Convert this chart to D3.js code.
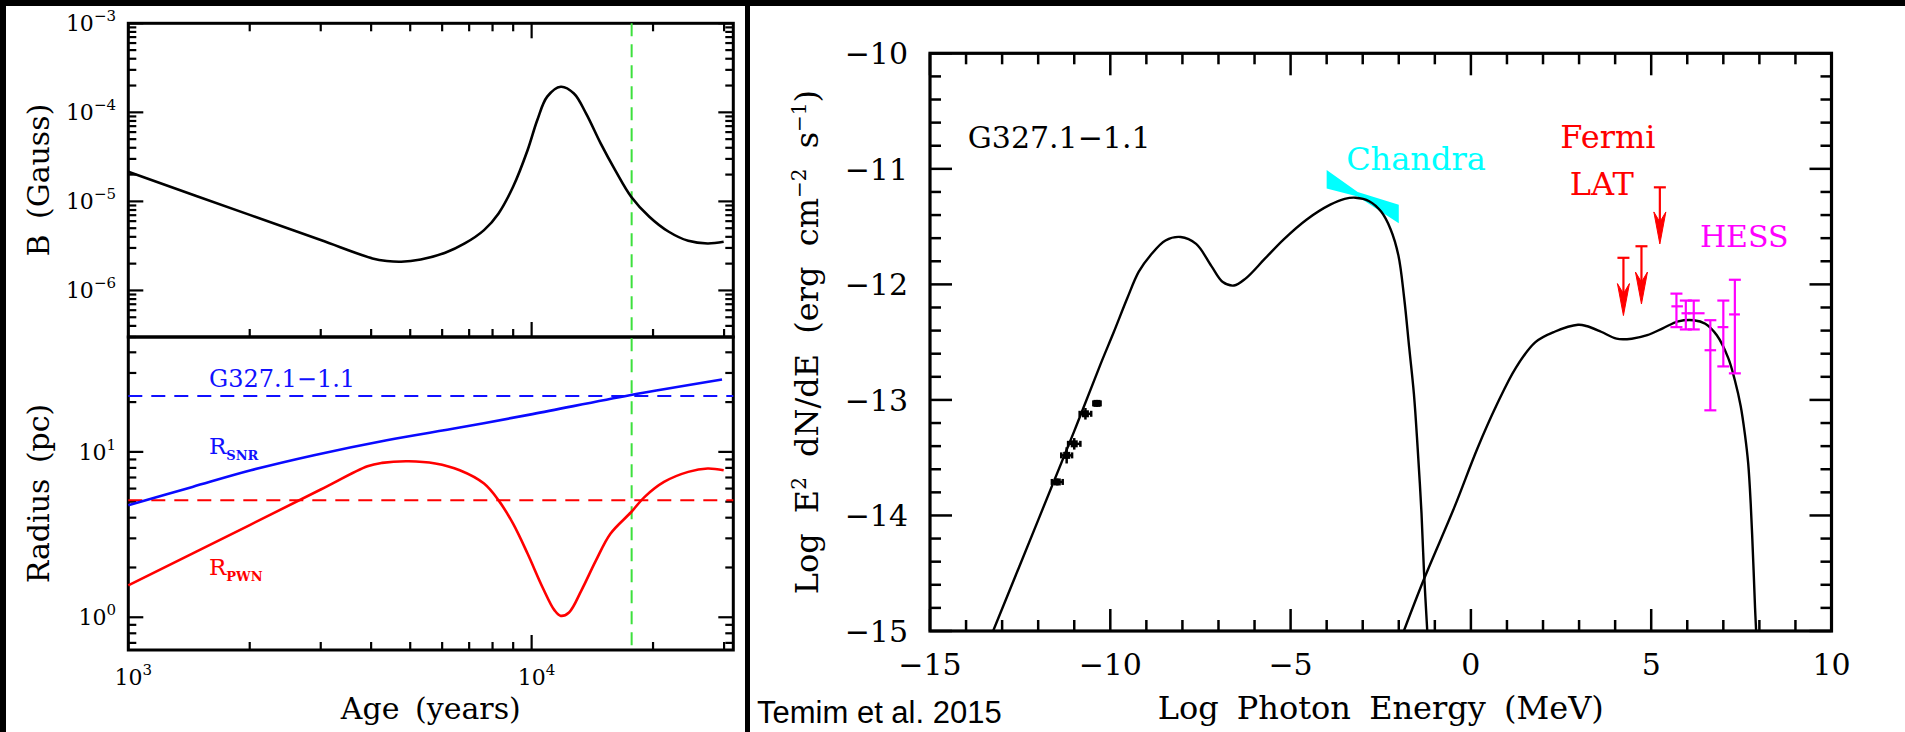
<!DOCTYPE html>
<html><head><meta charset="utf-8">
<script src="https://cdn.jsdelivr.net/npm/d3@7"></script>
<style>body{margin:0;background:#000}svg{display:block}</style>
</head><body><svg id="c" width="1905" height="732"></svg>
<script>
// ---------------- DATA ----------------
// Left top: magnetic field vs age
const ageB   = [1000, 2000, 3000, 4030, 4375, 4750, 5310, 6105, 6825, 7620, 8280, 8995, 9775, 10330, 10930, 11810, 12730, 13640, 14830, 16110, 17650, 19580, 21880, 24450, 27310, 29930];
const bField = [2.15e-5, 7.06e-6, 3.68e-6, 2.29e-6, 2.14e-6, 2.10e-6, 2.23e-6, 2.65e-6, 3.37e-6, 4.76e-6, 7.33e-6, 1.46e-5, 3.78e-5, 8.2e-5, 1.50e-4, 1.94e-4, 1.63e-4, 9.75e-5, 4.49e-5, 2.25e-5, 1.13e-5, 6.73e-6, 4.56e-6, 3.61e-6, 3.37e-6, 3.52e-6];
// Left bottom: radii vs age
const ageSNR = [1000, 1442, 2013, 2886, 4373, 6634, 10050, 17500, 29650];
const rSNR   = [4.75, 6.14, 7.74, 9.55, 11.77, 14.04, 16.91, 22.0, 27.4];
const agePWN = [1000, 2000, 3000, 3917, 4255, 4957, 5770, 6634, 7620, 8280, 8995, 9775, 10640, 11400, 11810, 12380, 13280, 14430, 15680, 17660, 19040, 21290, 24450, 27310, 29930];
const rPWN   = [1.56, 3.61, 5.92, 8.19, 8.58, 8.77, 8.50, 7.74, 6.43, 5.09, 3.68, 2.42, 1.52, 1.10, 1.02, 1.07, 1.45, 2.20, 3.20, 4.33, 5.33, 6.58, 7.57, 7.93, 7.74];
const rObsSNR = 21.8, rObsPWN = 5.1, ageNow = 17700;
const bTickExp = [-3, -4, -5, -6];
const rTickExp = [0, 1];
const ageTickExp = [3, 4];

// Right: SED (log E [MeV], log E^2 dN/dE)
const syncE = [-13.25, -12.0, -11.0, -10.27, -9.90, -9.53, -9.21, -8.89, -8.47, -8.05, -7.62, -7.20, -6.88, -6.57, -6.25, -5.72, -5.19, -4.56, -3.90, -3.50, -3.20, -2.82, -2.49, -2.23, -2.01, -1.85, -1.71, -1.58, -1.48, -1.37, -1.30, -1.21];
const syncF = [-15.0, -14.04, -13.27, -12.69, -12.41, -12.12, -11.89, -11.75, -11.62, -11.59, -11.65, -11.84, -11.98, -12.01, -11.95, -11.78, -11.61, -11.44, -11.31, -11.26, -11.25, -11.28, -11.37, -11.52, -11.75, -12.12, -12.55, -12.95, -13.40, -13.98, -14.49, -15.0];
const icE = [-1.86, -1.30, -0.46, 0.18, 0.72, 1.25, 1.79, 2.32, 2.97, 3.20, 3.61, 4.04, 4.46, 4.89, 5.32, 5.75, 6.18, 6.50, 6.82, 7.14, 7.32, 7.48, 7.60, 7.69, 7.76, 7.83, 7.88, 7.91];
const icF = [-15.0, -14.55, -13.93, -13.42, -13.04, -12.72, -12.50, -12.41, -12.35, -12.36, -12.41, -12.47, -12.47, -12.44, -12.38, -12.32, -12.31, -12.34, -12.44, -12.64, -12.83, -13.05, -13.30, -13.55, -13.90, -14.40, -14.80, -15.0];
const xrayE  = [-11.47, -11.21, -11.00, -10.69, -10.37];
const xrayF  = [-13.71, -13.48, -13.38, -13.12, -13.03];
const xrayDE = [0.15, 0.15, 0.17, 0.16, 0.10];
const xrayDF = [0.03, 0.07, 0.05, 0.05, 0.03];
const chandraE  = [-4.0, -3.14, -2.0];
const chandraHi = [-11.01, -11.20, -11.31];
const chandraLo = [-11.17, -11.24, -11.47];
const fermiE   = [4.23, 4.73, 5.24];
const fermiTop = [-11.77, -11.67, -11.16];
const fermiTip = [-12.27, -12.17, -11.65];
const hessE  = [5.70, 5.96, 6.18, 6.64, 7.00, 7.32];
const hessF  = [-12.19, -12.25, -12.25, -12.57, -12.37, -12.26];
const hessLo = [-12.37, -12.39, -12.39, -13.09, -12.71, -12.77];
const hessHi = [-12.08, -12.14, -12.14, -12.31, -12.14, -11.96];
const hessE0 = [5.56, 5.84, 6.02, 6.48, 6.84, 7.16];
const hessE1 = [5.88, 6.09, 6.48, 6.80, 7.14, 7.46];
const eTicks = [-15, -10, -5, 0, 5, 10];
const fTicks = [-10, -11, -12, -13, -14, -15];

// ---------------- DRAW ----------------
const svg = d3.select('#c');
const SERIF = 'DejaVu Serif';
svg.append('rect').attr('width', 1905).attr('height', 732).attr('fill', '#000');
svg.append('rect').attr('x', 6).attr('y', 6).attr('width', 739).attr('height', 726).attr('fill', '#fff');
svg.append('rect').attr('x', 750).attr('y', 6).attr('width', 1155).attr('height', 726).attr('fill', '#fff');

const fmtMinus = v => String(v).replace('-', '\u2212');
const isMajorLog = v => Math.abs(Math.log10(v) - Math.round(Math.log10(v))) < 1e-6;

// ---- Left panel ----
const LX0 = 128.3, LX1 = 733.3, LY0 = 23.3, LYM = 337, LY1 = 650;
const xAge = d3.scaleLog().domain([1000, 31623]).range([LX0, LX1]);
const yB = d3.scaleLog().domain([3.0e-7, 1e-3]).range([LYM, LY0]);
const yR = d3.scaleLog().domain([0.634, 49.5]).range([LY1, LYM]);

const lt = svg.append('g').attr('stroke', '#000').attr('stroke-width', 2.2);
xAge.ticks().forEach(t => {
  const x = xAge(t), len = isMajorLog(t) ? 15 : 8;
  lt.append('line').attr('x1', x).attr('x2', x).attr('y1', LY0).attr('y2', LY0 + len);
  lt.append('line').attr('x1', x).attr('x2', x).attr('y1', LYM).attr('y2', LYM - len);
  lt.append('line').attr('x1', x).attr('x2', x).attr('y1', LY1).attr('y2', LY1 - len);
});
[[yB, yB.ticks()], [yR, yR.ticks()]].forEach(([sc, ticks]) => {
  ticks.forEach(t => {
    const y = sc(t), len = isMajorLog(t) ? 15 : 8;
    lt.append('line').attr('x1', LX0).attr('x2', LX0 + len).attr('y1', y).attr('y2', y);
    lt.append('line').attr('x1', LX1).attr('x2', LX1 - len).attr('y1', y).attr('y2', y);
  });
});
svg.append('rect').attr('x', LX0).attr('y', LY0).attr('width', LX1 - LX0).attr('height', LYM - LY0)
  .attr('fill', 'none').attr('stroke', '#000').attr('stroke-width', 3);
svg.append('rect').attr('x', LX0).attr('y', LYM).attr('width', LX1 - LX0).attr('height', LY1 - LYM)
  .attr('fill', 'none').attr('stroke', '#000').attr('stroke-width', 3);

function powLabel(g, x, y, exp, anchor) {
  const t = g.append('text').attr('x', x).attr('y', y).attr('text-anchor', anchor)
    .attr('font-family', SERIF).attr('font-size', 22).attr('fill', '#000');
  t.append('tspan').text('10');
  t.append('tspan').attr('dy', -10).attr('font-size', 15).text(fmtMinus(exp));
}
const ll = svg.append('g');
bTickExp.forEach(e => powLabel(ll, 116, yB(Math.pow(10, e)) + 8, e, 'end'));
rTickExp.forEach(e => powLabel(ll, 116, yR(Math.pow(10, e)) + 8, e, 'end'));
ageTickExp.forEach(e => powLabel(ll, xAge(Math.pow(10, e)) + 5, 685, e, 'middle'));

ll.append('text').attr('x', xAge(Math.sqrt(1000 * 31623))).attr('y', 719).attr('text-anchor', 'middle')
  .attr('font-family', SERIF).attr('font-size', 30).attr('word-spacing', 6).text('Age (years)');
ll.append('text').attr('transform', `translate(49,${(LY0 + LYM) / 2}) rotate(-90)`).attr('text-anchor', 'middle')
  .attr('font-family', SERIF).attr('font-size', 30).attr('word-spacing', 6).text('B (Gauss)');
ll.append('text').attr('transform', `translate(49,${(LYM + LY1) / 2}) rotate(-90)`).attr('text-anchor', 'middle')
  .attr('font-family', SERIF).attr('font-size', 30).attr('word-spacing', 6).text('Radius (pc)');

// dashed reference lines
svg.append('line').attr('x1', LX0).attr('x2', LX1).attr('y1', yR(rObsSNR)).attr('y2', yR(rObsSNR))
  .attr('stroke', '#1010ff').attr('stroke-width', 2).attr('stroke-dasharray', '14,9');
svg.append('line').attr('x1', LX0).attr('x2', LX1).attr('y1', yR(rObsPWN)).attr('y2', yR(rObsPWN))
  .attr('stroke', '#ff0000').attr('stroke-width', 2).attr('stroke-dasharray', '14,9');
svg.append('line').attr('x1', xAge(ageNow)).attr('x2', xAge(ageNow)).attr('y1', LY0).attr('y2', LY1)
  .attr('stroke', '#3de03d').attr('stroke-width', 2).attr('stroke-dasharray', '13,8');

const lineB = d3.line().x(d => xAge(d[0])).y(d => yB(d[1])).curve(d3.curveCatmullRom.alpha(0.5));
const lineR = d3.line().x(d => xAge(d[0])).y(d => yR(d[1])).curve(d3.curveCatmullRom.alpha(0.5));
svg.append('path').attr('d', lineB(d3.zip(ageB, bField))).attr('fill', 'none').attr('stroke', '#000').attr('stroke-width', 2.6);
svg.append('path').attr('d', lineR(d3.zip(ageSNR, rSNR))).attr('fill', 'none').attr('stroke', '#0a0aff').attr('stroke-width', 2.6);
svg.append('path').attr('d', lineR(d3.zip(agePWN, rPWN))).attr('fill', 'none').attr('stroke', '#ff0000').attr('stroke-width', 2.6);

svg.append('text').attr('x', xAge(1585)).attr('y', yR(24.7)).attr('font-family', SERIF).attr('font-size', 24)
  .attr('fill', '#1010ff').text('G327.1\u22121.1');
const rs = svg.append('text').attr('x', xAge(1585)).attr('y', yR(9.7)).attr('font-family', SERIF).attr('font-size', 23).attr('fill', '#1010ff');
rs.append('tspan').text('R'); rs.append('tspan').attr('dy', 6).attr('font-size', 13).attr('font-weight', 'bold').text('SNR');
const rp = svg.append('text').attr('x', xAge(1585)).attr('y', yR(1.80)).attr('font-family', SERIF).attr('font-size', 23).attr('fill', '#ff0000');
rp.append('tspan').text('R'); rp.append('tspan').attr('dy', 6).attr('font-size', 13).attr('font-weight', 'bold').text('PWN');

// ---- Right panel ----
const RX0 = 930, RX1 = 1831.5, RY0 = 53.3, RY1 = 631;
const xE = d3.scaleLinear().domain([-15, 10]).range([RX0, RX1]);
const yF = d3.scaleLinear().domain([-15, -10]).range([RY1, RY0]);

const rt = svg.append('g').attr('stroke', '#000').attr('stroke-width', 2.5);
d3.range(-15, 11).forEach(v => {
  const x = xE(v), len = v % 5 === 0 ? 22 : 11;
  rt.append('line').attr('x1', x).attr('x2', x).attr('y1', RY1).attr('y2', RY1 - len);
  rt.append('line').attr('x1', x).attr('x2', x).attr('y1', RY0).attr('y2', RY0 + len);
});
d3.range(0, 26).map(i => -15 + i * 0.2).forEach(v => {
  const y = yF(v), len = Math.abs(v - Math.round(v)) < 1e-6 ? 22 : 11;
  rt.append('line').attr('x1', RX0).attr('x2', RX0 + len).attr('y1', y).attr('y2', y);
  rt.append('line').attr('x1', RX1).attr('x2', RX1 - len).attr('y1', y).attr('y2', y);
});
svg.append('rect').attr('x', RX0).attr('y', RY0).attr('width', RX1 - RX0).attr('height', RY1 - RY0)
  .attr('fill', 'none').attr('stroke', '#000').attr('stroke-width', 3.2);

const rl = svg.append('g').attr('font-family', SERIF).attr('font-size', 30).attr('fill', '#000');
eTicks.forEach(v => rl.append('text').attr('x', xE(v)).attr('y', 675).attr('text-anchor', 'middle').text(fmtMinus(v)));
fTicks.forEach(v => rl.append('text').attr('x', 908).attr('y', yF(v) + 11).attr('text-anchor', 'end').text(fmtMinus(v)));

rl.append('text').attr('x', (RX0 + RX1) / 2).attr('y', 719).attr('text-anchor', 'middle').attr('font-size', 32)
  .attr('word-spacing', 8).text('Log Photon Energy (MeV)');
const yt = rl.append('text').attr('transform', `translate(818,${(RY0 + RY1) / 2}) rotate(-90)`)
  .attr('text-anchor', 'middle').attr('font-size', 32).attr('word-spacing', 10);
yt.append('tspan').text('Log E');
yt.append('tspan').attr('dy', -12).attr('font-size', 20).text('2');
yt.append('tspan').attr('dy', 12).text(' dN/dE (erg cm');
yt.append('tspan').attr('dy', -12).attr('font-size', 20).text('\u22122');
yt.append('tspan').attr('dy', 12).text(' s');
yt.append('tspan').attr('dy', -12).attr('font-size', 20).text('\u22121');
yt.append('tspan').attr('dy', 12).text(')');

// Chandra butterfly
const areaCh = d3.area().x(d => xE(d[0])).y0(d => yF(d[1])).y1(d => yF(d[2]));
svg.append('path').attr('d', areaCh(d3.zip(chandraE, chandraLo, chandraHi))).attr('fill', '#00ffff');

const clipR = svg.append('clipPath').attr('id', 'clipR');
clipR.append('rect').attr('x', RX0).attr('y', RY0).attr('width', RX1 - RX0).attr('height', RY1 - RY0);
const lineS = d3.line().x(d => xE(d[0])).y(d => yF(d[1])).curve(d3.curveCatmullRom.alpha(0.5));
svg.append('path').attr('clip-path', 'url(#clipR)').attr('d', lineS(d3.zip(syncE, syncF)))
  .attr('fill', 'none').attr('stroke', '#000').attr('stroke-width', 2.4);
svg.append('path').attr('clip-path', 'url(#clipR)').attr('d', lineS(d3.zip(icE, icF)))
  .attr('fill', 'none').attr('stroke', '#000').attr('stroke-width', 2.4);

// X-ray points
const xg = svg.append('g').attr('stroke', '#000').attr('stroke-width', 2.5);
xrayE.forEach((e, i) => {
  const x = xE(e), y = yF(xrayF[i]);
  const x0 = xE(e - xrayDE[i]), x1 = xE(e + xrayDE[i]);
  const y0 = yF(xrayF[i] - xrayDF[i]), y1 = yF(xrayF[i] + xrayDF[i]);
  xg.append('line').attr('x1', x0).attr('x2', x1).attr('y1', y).attr('y2', y);
  xg.append('line').attr('x1', x0).attr('x2', x0).attr('y1', y - 3).attr('y2', y + 3);
  xg.append('line').attr('x1', x1).attr('x2', x1).attr('y1', y - 3).attr('y2', y + 3);
  xg.append('line').attr('x1', x).attr('x2', x).attr('y1', y0).attr('y2', y1);
  xg.append('rect').attr('x', x - 3.5).attr('y', y - 3.5).attr('width', 7).attr('height', 7).attr('fill', '#000').attr('stroke', 'none');
});

// Fermi upper limits
const fg = svg.append('g').attr('stroke', '#ff0000').attr('fill', '#ff0000').attr('stroke-width', 2.2);
fermiE.forEach((e, i) => {
  const x = xE(e), yT = yF(fermiTop[i]), yP = yF(fermiTip[i]);
  fg.append('line').attr('x1', x - 6).attr('x2', x + 6).attr('y1', yT).attr('y2', yT);
  fg.append('line').attr('x1', x).attr('x2', x).attr('y1', yT).attr('y2', yP - 20);
  fg.append('path').attr('d', `M${x - 6},${yP - 32}L${x},${yP}L${x + 6},${yP - 32}L${x},${yP - 22}Z`).attr('stroke-width', 1);
});

// HESS points
const hg = svg.append('g').attr('stroke', '#ff00ff').attr('stroke-width', 2.2);
hessE.forEach((e, i) => {
  const x = xE(e), y = yF(hessF[i]);
  hg.append('line').attr('x1', xE(hessE0[i])).attr('x2', xE(hessE1[i])).attr('y1', y).attr('y2', y);
  hg.append('line').attr('x1', x).attr('x2', x).attr('y1', yF(hessLo[i])).attr('y2', yF(hessHi[i]));
  [hessLo[i], hessHi[i]].forEach(v => hg.append('line').attr('x1', x - 6).attr('x2', x + 6).attr('y1', yF(v)).attr('y2', yF(v)));
});

// annotations
const ann = svg.append('g').attr('font-family', SERIF);
ann.append('text').attr('x', xE(-13.95)).attr('y', yF(-10.82)).attr('font-size', 30).attr('fill', '#000').text('G327.1\u22121.1');
ann.append('text').attr('x', xE(-3.46)).attr('y', yF(-11.01)).attr('font-size', 32).attr('fill', '#00ffff').text('Chandra');
ann.append('text').attr('x', xE(3.80)).attr('y', yF(-10.82)).attr('text-anchor', 'middle').attr('font-size', 32).attr('fill', '#ff0000').text('Fermi');
ann.append('text').attr('x', xE(3.63)).attr('y', yF(-11.23)).attr('text-anchor', 'middle').attr('font-size', 32).attr('fill', '#ff0000').text('LAT');
ann.append('text').attr('x', xE(6.35)).attr('y', yF(-11.68)).attr('font-size', 30).attr('fill', '#ff00ff').text('HESS');

svg.append('text').attr('x', 757).attr('y', 723).attr('font-family', 'Liberation Sans, Arial').attr('font-size', 31)
  .attr('fill', '#000').text('Temim et al. 2015');
</script></body></html>
